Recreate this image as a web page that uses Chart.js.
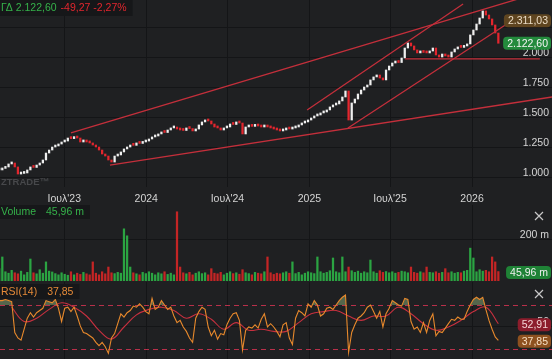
<!DOCTYPE html>
<html>
<head>
<meta charset="utf-8">
<script src="https://cdn.jsdelivr.net/npm/chart.js@4"></script>
<style>
  html, body { margin: 0; padding: 0; background: #1f2022; width: 552px; height: 359px; overflow: hidden; }
  canvas { position: absolute; left: 0; }
</style>
</head>
<body>
<canvas id="price" style="top:0" width="552" height="205"></canvas>
<canvas id="volume" style="top:205px" width="552" height="76"></canvas>
<canvas id="rsi" style="top:282px" width="552" height="77"></canvas>
<script>
// weekly series, week 0 = startDate
const startDate = '2023-02-05';
const tickDates = ['2023-07-01', '2024-01-01', '2024-07-01', '2025-01-01', '2025-07-01', '2026-01-01'];
const tickLabels = ["Ιουλ'23", '2024', "Ιουλ'24", '2025', "Ιουλ'25", '2026'];

const priceTicks = [1000, 1250, 1500, 1750, 2000, 2250];
const volumeTicks = [200];
const rsiTicks = [50];

const closes = [
  1067, 1080, 1092, 1117, 1125, 1092, 1033, 1038, 1042, 1067,
  1092, 1088, 1108, 1125, 1150, 1208, 1233, 1258, 1267, 1283,
  1300, 1308, 1333, 1328, 1342, 1333, 1300, 1317, 1300, 1292,
  1275, 1258, 1233, 1200, 1183, 1150, 1133, 1183, 1192, 1217,
  1242, 1258, 1275, 1272, 1292, 1288, 1300, 1308, 1325, 1342,
  1350, 1367, 1383, 1379, 1400, 1417, 1421, 1408, 1400, 1396,
  1417, 1412, 1392, 1408, 1442, 1467, 1483, 1475, 1450, 1425,
  1417, 1400, 1417, 1425, 1450, 1446, 1467, 1458, 1367, 1425,
  1433, 1430, 1442, 1433, 1425, 1433, 1425, 1417, 1408, 1400,
  1392, 1400, 1417, 1408, 1417, 1425, 1442, 1458, 1467, 1483,
  1500, 1517, 1525, 1542, 1550, 1567, 1592, 1608, 1617, 1642,
  1675, 1725, 1483, 1625, 1658, 1700, 1733, 1758, 1775, 1817,
  1842, 1858, 1833, 1817, 1900, 1933, 1958, 1967, 1962, 2000,
  2083, 2125, 2100, 2067, 2042, 2050, 2046, 2042, 2058, 2083,
  2025, 2008, 2033, 2017, 2008, 2050, 2075, 2092, 2088, 2100,
  2117, 2192, 2233, 2283, 2333, 2392, 2358, 2325, 2275, 2208,
  2122.6
];

const volumes = [
  60, 117, 45, 38, 52, 40, 35, 48, 30, 42,
  107, 40, 35, 55, 38, 93, 48, 44, 36, 30,
  40, 33, 28, 45, 30, 38, 32, 42, 35, 30,
  93, 38, 30, 45, 35, 68, 40, 36, 42, 38,
  254, 220, 68, 40, 35, 30, 42, 36, 45, 38,
  30, 40, 35, 45, 32, 38, 30, 337, 68, 40,
  35, 42, 30, 38, 45, 36, 40, 30, 60, 38,
  35, 42, 30, 38, 45, 36, 40, 33, 55, 40,
  36, 30, 42, 38, 35, 45, 117, 40, 32, 38,
  35, 40, 45, 38, 93, 36, 42, 30, 38, 45,
  40, 36, 117, 45, 38, 42, 50, 112, 45, 40,
  117, 45, 68, 50, 42, 48, 38, 45, 40, 102,
  45, 38, 50, 42, 46, 40, 45, 38, 42, 48,
  45, 40, 68, 42, 38, 45, 40, 68, 42, 40,
  45, 38, 42, 60, 40, 45, 38, 42, 40, 48,
  52, 160, 112, 45, 55, 48, 52, 45, 117, 93,
  45.96
];

const rsi = [
  74, 74, 75, 74, 73, 45, 40, 38, 48, 58,
  63, 59, 63, 65, 67, 74, 73, 72, 75, 67,
  55, 67, 68, 64, 68, 60, 51, 45, 44, 42,
  40, 36, 33, 36, 32, 26, 40, 44, 53, 62,
  59, 63, 65, 69, 68, 71, 68, 64, 62, 76,
  66, 68, 74, 70, 66, 68, 60, 54, 56, 50,
  46, 40, 36, 58, 64, 68, 66, 50, 42, 47,
  39, 44, 43, 52, 58, 62, 63, 56, 29, 47,
  50, 49, 52, 49, 57, 62, 50, 53, 50, 46,
  41, 52, 54, 40, 34, 58, 65, 63, 60, 71,
  68, 74, 70, 60, 62, 67, 68, 66, 70, 74,
  77, 79, 27, 45, 52, 58, 60, 63, 68, 70,
  64, 58, 64, 50, 62, 67, 74, 72, 70, 69,
  76, 75, 55, 48, 50, 45, 54, 45, 56, 62,
  42, 46, 45, 49, 53, 57, 56, 59, 57, 57,
  64, 70, 75, 77, 75, 77, 66, 56, 48, 41,
  37.85
];

// RSI moving average, one value every 4 weeks from week 4
const rsiMa = [
  68, 55, 58, 66, 72, 68, 60, 47, 39, 50,
  61, 66, 68, 65, 58, 62, 57, 48, 54, 47,
  48, 46, 46, 54, 62, 64, 65, 60, 56, 60,
  60, 68, 62, 53, 47, 50, 56, 64, 68, 52.91
];

// trend lines drawn on the chart: [week, price]
const trendA = [[23.0, 1375], [170, 2520]];
const trendB = [[35.5, 1108], [177.2, 1675]];
const trendC = [[98.7, 1567], [148.7, 2450]];
const trendD = [[111.8, 1417], [163.7, 2300]];
const trendE = [[130.1, 1992], [173.3, 1992]];

const lastClose = 2122.60;
const change = -49.27;
const changePct = -2.27;
const markPrice = 2311.03;
const lastVolume = 45.96;
const rsiLast = 37.85;
const rsiMaLast = 52.91;

const GREEN = '#35b24a';
const RED = '#e3262e';
const GRID = '#141517';
const TEXT = '#d4d4d4';
const FONT = "'Liberation Sans', Arial, sans-serif";

Chart.defaults.font.family = FONT;
Chart.defaults.font.size = 10;
Chart.defaults.color = TEXT;

function fmt(v, d) {
  const s = Math.abs(v).toFixed(d).split('.');
  const int = s[0].replace(/\B(?=(\d{3})+(?!\d))/g, '.');
  return (v < 0 ? '-' : '') + int + (d ? ',' + s[1] : '');
}

const weekMs = 7 * 86400000;
const weekOf = d => (Date.parse(d) - Date.parse(startDate)) / weekMs;
const tickWeeks = tickDates.map(weekOf);

const xMin = 0.26, xMax = 177.2;

// kill the label padding chart.js adds around the plot area
const noPad = s => { s.paddingTop = 0; s.paddingBottom = 0; s.paddingLeft = 0; s.paddingRight = 0; };

function xScale(axisHeight) {
  return {
    type: 'linear', min: xMin, max: xMax, offset: false,
    afterBuildTicks: ax => { ax.ticks = tickWeeks.map(v => ({ value: v })); },
    afterFit: s => { noPad(s); s.height = axisHeight; },
    grid: { color: GRID, drawTicks: false, offset: false },
    border: { display: false },
    ticks: {
      display: axisHeight > 0, autoSkip: false, maxRotation: 0, padding: 6,
      color: TEXT, font: { size: 10.5 },
      callback: (v, i) => tickLabels[i]
    }
  };
}

function yScale(min, max, ticks) {
  return {
    position: 'right', min, max,
    afterBuildTicks: ax => { ax.ticks = ticks.map(v => ({ value: v })); },
    afterFit: s => { noPad(s); s.width = 0; },
    grid: { color: GRID, drawTicks: false },
    border: { display: false },
    ticks: { display: false }
  };
}

// right-hand value labels, sitting just above their grid line
function yLabels(chart, ticks, label) {
  const ctx = chart.ctx, y = chart.scales.y;
  ctx.save();
  ctx.font = '10.5px ' + FONT;
  ctx.fillStyle = TEXT;
  ctx.textAlign = 'right';
  ctx.textBaseline = 'middle';
  ticks.forEach(v => {
    const t = label(v);
    if (t) ctx.fillText(t, 549, y.getPixelForValue(v) - 5);
  });
  ctx.restore();
}

function tag(ctx, text, y, bg, fg) {
  ctx.save();
  ctx.font = '10.5px ' + FONT;
  const tw = ctx.measureText(text).width + 7;
  ctx.fillStyle = bg;
  ctx.beginPath();
  ctx.roundRect(551 - tw, y - 6.5, tw, 13, 4);
  ctx.fill();
  ctx.fillStyle = fg;
  ctx.textAlign = 'right';
  ctx.textBaseline = 'middle';
  ctx.fillText(text, 548, y + 0.5);
  ctx.restore();
}

function closeMark(ctx, y) {
  ctx.save();
  ctx.strokeStyle = '#c8c8c8';
  ctx.lineWidth = 1.2;
  ctx.beginPath();
  ctx.moveTo(535, y - 4); ctx.lineTo(543, y + 4);
  ctx.moveTo(543, y - 4); ctx.lineTo(535, y + 4);
  ctx.stroke();
  ctx.restore();
}

function header(ctx, y, h, parts) {
  ctx.save();
  ctx.font = '10.5px ' + FONT;
  let w = 3;
  parts.forEach(p => { w += ctx.measureText(p[0]).width + (p[2] || 0); });
  ctx.fillStyle = '#161719';
  ctx.fillRect(0, y, w + 4, h);
  ctx.textBaseline = 'middle';
  let x = 1;
  parts.forEach(p => {
    ctx.fillStyle = p[1];
    ctx.fillText(p[0], x, y + h / 2 + 0.5);
    x += ctx.measureText(p[0]).width + (p[2] || 0);
  });
  ctx.restore();
}

const line = (pts, color) => ({
  type: 'line',
  data: pts.map(p => ({ x: p[0], y: p[1] })),
  borderColor: color, borderWidth: 1.3, pointRadius: 0, order: 0
});

const baseOpts = {
  responsive: false, animation: false,
  layout: { padding: 0 },
  plugins: { legend: { display: false }, tooltip: { enabled: false } }
};

// ---------- price ----------
const candleData = closes.map((c, i) => ({ x: i, y: [i ? closes[i - 1] : c, c] }));
const candleColors = closes.map((c, i) => (i && c < closes[i - 1]) ? RED : '#efefef');

new Chart(document.getElementById('price'), {
  type: 'bar',
  data: {
    datasets: [
      line(trendA, '#c42f3b'),
      line(trendB, '#c42f3b'),
      line(trendC, '#c42f3b'),
      line(trendD, '#c42f3b'),
      line(trendE, '#c42f3b'),
      {
        type: 'bar', data: candleData, backgroundColor: candleColors,
        barThickness: 1.6, minBarLength: 2, grouped: false, order: 1
      }
    ]
  },
  options: {
    ...baseOpts,
    scales: { x: xScale(18), y: yScale(925, 2483, priceTicks) }
  },
  plugins: [{
    id: 'priceOverlay',
    afterDraw(chart) {
      const ctx = chart.ctx, y = chart.scales.y;
      yLabels(chart, priceTicks, v => Math.abs(v - markPrice) < 100 ? '' : fmt(v, 0));
      header(ctx, 0, 16, [
        ['ΓΔ ' + fmt(lastClose, 2), GREEN, 4],
        [fmt(change, 2) + ' ' + fmt(changePct, 2) + '%', RED]
      ]);
      ctx.save();
      ctx.font = 'bold 9.5px ' + FONT;
      ctx.fillStyle = '#47484b';
      ctx.textBaseline = 'middle';
      ctx.fillText('ZTRADE™', 1, 182);
      ctx.restore();
      tag(ctx, fmt(markPrice, 2), y.getPixelForValue(markPrice), '#5f4520', '#eadcc6');
      tag(ctx, fmt(lastClose, 2), y.getPixelForValue(lastClose), '#238a3c', '#f4f4f4');
    }
  }]
});

// ---------- volume ----------
const volColors = closes.map((c, i) => (i && c < closes[i - 1]) ? 'rgba(214,38,38,0.9)' : 'rgba(44,178,70,0.9)');

new Chart(document.getElementById('volume'), {
  type: 'bar',
  data: {
    datasets: [{
      data: volumes.map((v, i) => ({ x: i, y: v })),
      backgroundColor: volColors, barThickness: 1.6, minBarLength: 2
    }]
  },
  options: {
    ...baseOpts,
    scales: { x: xScale(0), y: yScale(0, 370, volumeTicks) }
  },
  plugins: [{
    id: 'volOverlay',
    afterDraw(chart) {
      const ctx = chart.ctx;
      yLabels(chart, volumeTicks, v => v + ' m');
      header(ctx, 0, 14, [['Volume', GREEN, 10], [fmt(lastVolume, 2) + ' m', GREEN]]);
      closeMark(ctx, 11);
      tag(ctx, fmt(lastVolume, 2) + ' m', chart.scales.y.getPixelForValue(lastVolume) + 1, '#1f8236', '#f0f0f0');
    }
  }]
});

// ---------- RSI ----------
new Chart(document.getElementById('rsi'), {
  type: 'line',
  data: {
    datasets: [
      {
        data: rsi.map((v, i) => ({ x: i, y: v })),
        borderColor: '#e8892c', borderWidth: 1.1, pointRadius: 0, tension: 0,
        fill: { target: { value: 70 }, above: 'rgba(120,150,105,0.6)', below: 'rgba(0,0,0,0)' }
      },
      {
        data: rsiMa.map((v, i) => ({ x: 4 + i * 4, y: v })),
        borderColor: '#c8303f', borderWidth: 1.1, pointRadius: 0, tension: 0.4, fill: false
      }
    ]
  },
  options: {
    ...baseOpts,
    scales: { x: xScale(0), y: yScale(20.9, 90.9, rsiTicks) }
  },
  plugins: [{
    id: 'rsiOverlay',
    beforeDatasetsDraw(chart) {
      const ctx = chart.ctx, y = chart.scales.y, a = chart.chartArea;
      ctx.save();
      ctx.strokeStyle = '#b8304a';
      ctx.lineWidth = 1;
      ctx.setLineDash([5, 4]);
      [70, 30].forEach(v => {
        const py = Math.round(y.getPixelForValue(v)) + 0.5;
        ctx.beginPath(); ctx.moveTo(a.left, py); ctx.lineTo(a.right, py); ctx.stroke();
      });
      ctx.restore();
    },
    afterDraw(chart) {
      const ctx = chart.ctx, y = chart.scales.y;
      yLabels(chart, rsiTicks, v => String(v));
      header(ctx, 2, 15, [['RSI(14)', '#e58a38', 10], [fmt(rsiLast, 2), '#e58a38']]);
      closeMark(ctx, 12);
      tag(ctx, fmt(rsiMaLast, 2), y.getPixelForValue(rsiMaLast) + 1, '#8c1d2c', '#f3d6d6');
      tag(ctx, fmt(rsiLast, 2), y.getPixelForValue(rsiLast) + 1, '#8e511f', '#f6dfc4');
    }
  }]
});
</script>
</body>
</html>
